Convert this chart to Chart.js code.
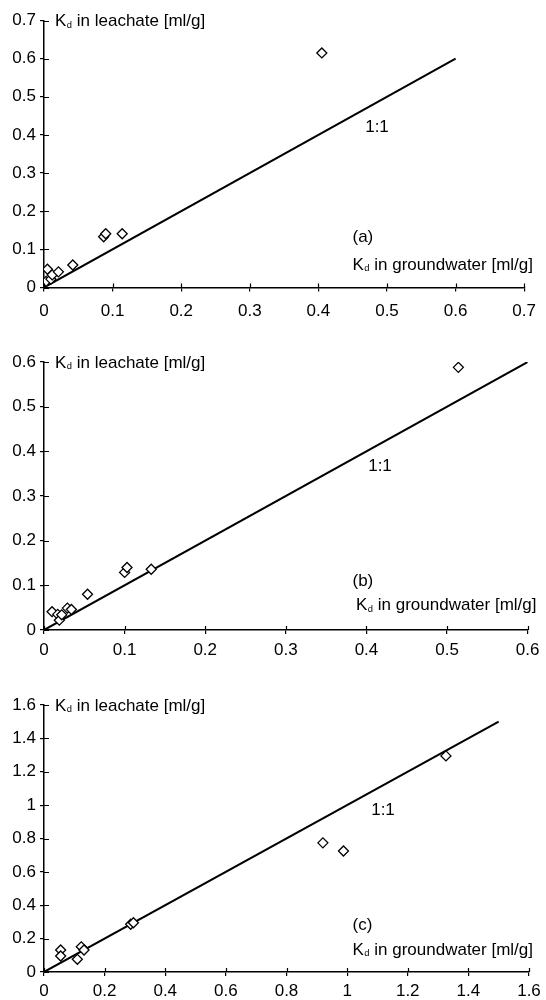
<!DOCTYPE html>
<html><head><meta charset="utf-8">
<script src="https://cdn.jsdelivr.net/npm/chart.js@4.4.1/dist/chart.umd.min.js"></script>
<style>
html,body{margin:0;padding:0;background:#fff;}
canvas{position:absolute;left:0;display:block;}
</style></head><body>
<canvas id="ca" width="546" height="330" style="top:0px"></canvas>
<canvas id="cb" width="546" height="335" style="top:330px"></canvas>
<canvas id="cc" width="546" height="335" style="top:665px"></canvas>
<script>
// ---- Panel (a) ----
const groundwaterA = [0.003, 0.005, 0.010, 0.012, 0.021, 0.042, 0.087, 0.090, 0.114, 0.405];
const leachateA    = [0.016, 0.048, 0.022, 0.033, 0.041, 0.059, 0.133, 0.141, 0.141, 0.615];
const ticksA = ['0','0.1','0.2','0.3','0.4','0.5','0.6','0.7'];
const lineA = [0, 0.6];
// ---- Panel (b) ----
const groundwaterB = [0.010, 0.017, 0.019, 0.022, 0.029, 0.034, 0.054, 0.100, 0.103, 0.133, 0.514];
const leachateB    = [0.041, 0.035, 0.022, 0.034, 0.049, 0.046, 0.080, 0.129, 0.140, 0.136, 0.588];
const ticksB = ['0','0.1','0.2','0.3','0.4','0.5','0.6'];
const lineB = [0, 0.6];
// ---- Panel (c) ----
const groundwaterC = [0.055, 0.055, 0.110, 0.123, 0.132, 0.286, 0.295, 0.920, 0.988, 1.326];
const leachateC    = [0.132, 0.096, 0.076, 0.151, 0.132, 0.286, 0.295, 0.774, 0.725, 1.295];
const ticksC = ['0','0.2','0.4','0.6','0.8','1','1.2','1.4','1.6'];
const lineC = [0, 1.5];

const FONT = 'Liberation Sans, Arial, Helvetica, sans-serif';

function kdText(ctx, x, y, rest, size) {
  ctx.save();
  ctx.fillStyle = '#000';
  ctx.textBaseline = 'middle';
  ctx.textAlign = 'left';
  ctx.font = size + 'px ' + FONT;
  ctx.fillText('K', x, y);
  let w = ctx.measureText('K').width;
  ctx.font = (size * 0.55) + 'px ' + FONT;
  ctx.fillText('d', x + w + 0.5, y + size * 0.22);
  w += ctx.measureText('d').width + 0.5;
  ctx.font = size + 'px ' + FONT;
  ctx.fillText(rest, x + w, y);
  ctx.restore();
}

const decor = {
  id: 'decor',
  afterDraw(chart, args, o) {
    const ctx = chart.ctx;
    const ca = chart.chartArea;
    const xs = chart.scales.x, ys = chart.scales.y;
    ctx.save();
    ctx.strokeStyle = '#000';
    ctx.lineWidth = 1.2;
    ctx.beginPath();
    ys.ticks.forEach(t => {
      const py = Math.round(ys.getPixelForValue(t.value)) + 0.5;
      ctx.moveTo(ca.left, py); ctx.lineTo(ca.left + 5, py);
    });
    xs.ticks.forEach(t => {
      const px = Math.round(xs.getPixelForValue(t.value)) + 0.5;
      ctx.moveTo(px, ca.bottom); ctx.lineTo(px, ca.bottom - 4);
    });
    ctx.stroke();
    ctx.restore();
    const topY = ys.getPixelForValue(ys.max);
    kdText(ctx, ca.left + 11, topY + 1, ' in leachate [ml/g]', 17);
    kdText(ctx, o.xTitleX, ca.bottom - o.xTitleDy, ' in groundwater [ml/g]', 17);
    ctx.save();
    ctx.fillStyle = '#000';
    ctx.font = '17px ' + FONT;
    ctx.textBaseline = 'middle';
    ctx.textAlign = 'left';
    ctx.fillText(o.panel, 352.5, ca.bottom - o.panelDy);
    ctx.textAlign = 'center';
    ctx.fillText('1:1', o.ratioX, o.ratioY);
    ctx.restore();
  }
};

function makeChart(id, gw, lc, line, ticks, max, step, opt) {
  const pts = gw.map((v, i) => ({x: v, y: lc[i]}));
  const ln = [{x: line[0], y: line[0]}, {x: line[1], y: line[1]}];
  const axis = (isX) => ({
    type: 'linear',
    min: 0, max: max,
    grid: {display: true, drawOnChartArea: false, drawTicks: true, tickLength: 4, color: '#000', lineWidth: 1.2},
    border: {display: true, color: '#000', width: 1.5},
    ticks: {
      stepSize: step, autoSkip: false, maxRotation: 0, includeBounds: true,
      color: '#000', font: {family: FONT, size: 17},
      padding: isX ? opt.xPad : 4,
      callback: (v, i) => ticks[i]
    },
    afterFit: (s) => { if (isX) s.height = opt.xH; else s.width = 44; }
  });
  return new Chart(document.getElementById(id), {
    type: 'scatter',
    data: {datasets: [
      {type: 'line', data: ln, borderColor: '#000', borderWidth: 2, pointRadius: 0, fill: false, order: 2},
      {data: pts, pointStyle: 'rectRot', pointRadius: 5, pointBorderWidth: 1.3,
       pointBackgroundColor: '#fff', pointBorderColor: '#000', order: 1}
    ]},
    options: {
      responsive: false, animation: false,
      layout: {padding: {left: 0, right: opt.padR, top: opt.padT, bottom: 0}},
      plugins: {legend: {display: false}, tooltip: {enabled: false}, decor: opt.decor},
      scales: {x: axis(true), y: axis(false)}
    },
    plugins: [decor]
  });
}

makeChart('ca', groundwaterA, leachateA, lineA, ticksA, 0.7, 0.1,
  {padR: 16, padT: 20.5, xH: 42.5, xPad: 10,
   decor: {xTitleX: 352.5, xTitleDy: 22.5, panel: '(a)', panelDy: 50.5, ratioX: 377, ratioY: 127}});
makeChart('cb', groundwaterB, leachateB, lineB, ticksB, 0.6, 0.1,
  {padR: 16, padT: 32, xH: 35, xPad: 6.5,
   decor: {xTitleX: 356, xTitleDy: 24.3, panel: '(b)', panelDy: 48.3, ratioX: 380, ratioY: 136.7}});
makeChart('cc', groundwaterC, leachateC, lineC, ticksC, 1.6, 0.2,
  {padR: 17, padT: 40, xH: 28, xPad: 5,
   decor: {xTitleX: 352.5, xTitleDy: 22, panel: '(c)', panelDy: 46.5, ratioX: 383, ratioY: 145}});
</script>
</body></html>
